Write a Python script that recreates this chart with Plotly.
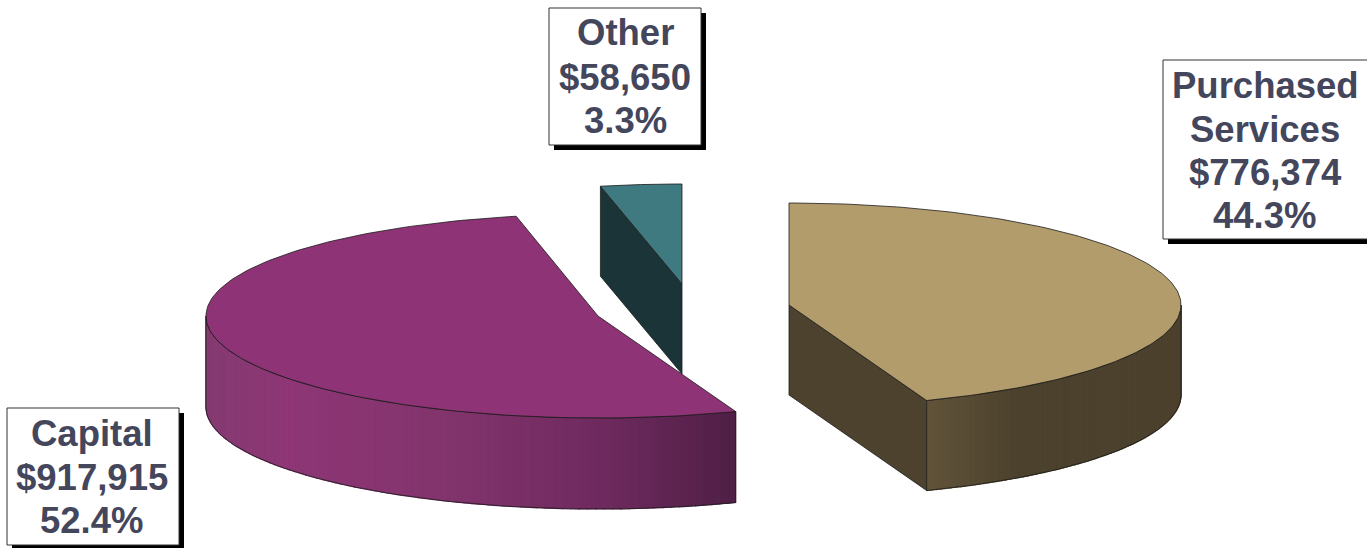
import math
import plotly.graph_objects as go

# ---- data ----
categories = ["Purchased Services", "Capital", "Other"]
amounts = [776374, 917915, 58650]
shares = [44.3, 52.4, 3.3]
label_lines = [["Purchased", "Services"], ["Capital"], ["Other"]]

# ---- styling / layout constants ----
W, H = 1367, 548
RX = [392, 392, 391]
RY = [102, 102, 100]
DEPTH = [90, 91, 90]
APEX = [(789, 305), (598, 316), (682, 284)]
TOP = ["#B39C6B", "#8F3377", "#3F7A80"]
CUT = ["#4D422E", None, "#1A3437"]
# wall shading stops: (fraction across the wall from left to right, r, g, b)
SHADE = [
    [(0.0, 0x60, 0x53, 0x3A), (0.12, 0x5A, 0x4D, 0x35), (0.36, 0x4C, 0x41, 0x2D), (1.0, 0x4C, 0x41, 0x2D)],
    [(0.0, 0x84, 0x3A, 0x70), (0.15, 0x8E, 0x36, 0x76), (0.45, 0x82, 0x34, 0x6C), (0.75, 0x6E, 0x2A, 0x5E), (1.0, 0x4E, 0x1F, 0x45)],
    None,
]
EDGE = "#1c1c1c"
TEXT = "#44465C"
BOX = [(1163, 60, 1372, 239), (7, 408, 179, 545), (549, 8, 701, 145)]
LINE_Y = [[85, 129, 172, 215], [433, 477, 520], [32, 77, 120]]
TEXT_X = [1265, 92, 625]

total = sum(amounts)
starts, a = [], 0.0
for v in amounts:
    starts.append(a)
    a += v / total * 2 * math.pi
ends = starts[1:] + [2 * math.pi]


def rim(i, th, dy=0):
    cx, cy = APEX[i]
    return cx + RX[i] * math.sin(th), cy - RY[i] * math.cos(th) + dy


def arc(i, t0, t1, n, dy=0):
    return [rim(i, t0 + (t1 - t0) * k / n, dy) for k in range(n + 1)]


def shade(i, f):
    stops = SHADE[i]
    for (f0, *c0), (f1, *c1) in zip(stops, stops[1:]):
        if f <= f1:
            u = (f - f0) / (f1 - f0)
            return "rgb(%d,%d,%d)" % tuple(round(p + (q - p) * u) for p, q in zip(c0, c1))
    return "rgb(%d,%d,%d)" % tuple(stops[-1][1:])


fig = go.Figure()


def poly(pts, fill, line=EDGE, width=0.8):
    fig.add_trace(go.Scatter(
        x=[p[0] for p in pts] + [pts[0][0]],
        y=[p[1] for p in pts] + [pts[0][1]],
        mode="lines", fill="toself", fillcolor=fill,
        line=dict(color=line, width=width), hoverinfo="skip", showlegend=False))


def wall(i, t0, t1, strips=90):
    x0, x1 = sorted((rim(i, t0)[0], rim(i, t1)[0]))
    for k in range(strips):
        a0 = t0 + (t1 - t0) * k / strips
        a1 = t0 + (t1 - t0) * (k + 1) / strips
        f = (rim(i, (a0 + a1) / 2)[0] - x0) / (x1 - x0)
        col = shade(i, f)
        pts = [rim(i, a0), rim(i, a1), rim(i, a1, DEPTH[i]), rim(i, a0, DEPTH[i])]
        poly(pts, col, line=col, width=1.2)
    outline = arc(i, t0, t1, 60) + arc(i, t1, t0, 60, DEPTH[i])
    fig.add_trace(go.Scatter(
        x=[p[0] for p in outline] + [outline[0][0]],
        y=[p[1] for p in outline] + [outline[0][1]],
        mode="lines", line=dict(color=EDGE, width=0.8),
        hoverinfo="skip", showlegend=False))


def cut_face(i, th):
    cx, cy = APEX[i]
    e = rim(i, th)
    poly([(cx, cy), e, (e[0], e[1] + DEPTH[i]), (cx, cy + DEPTH[i])], CUT[i])


def top_face(i):
    poly([APEX[i]] + arc(i, starts[i], ends[i], 160), TOP[i])


# Other (back)
cut_face(2, starts[2])
top_face(2)
# Purchased Services (right)
cut_face(0, ends[0])
wall(0, math.pi / 2, ends[0])
top_face(0)
# Capital (front-left)
wall(1, starts[1], 1.5 * math.pi)
top_face(1)

shapes, annotations = [], []
for i, (x0, y0, x1, y1) in enumerate(BOX):
    shapes.append(dict(type="rect", x0=x0 + 5, y0=y0 + 5, x1=x1 + 5, y1=y1 + 5,
                       fillcolor="#000000", line=dict(color="#000000", width=0), layer="above"))
    shapes.append(dict(type="rect", x0=x0, y0=y0, x1=x1, y1=y1, fillcolor="#ffffff",
                       line=dict(color="#333333", width=1), layer="above"))
    lines = label_lines[i] + [f"${amounts[i]:,}", f"{shares[i]}%"]
    for txt, y in zip(lines, LINE_Y[i]):
        annotations.append(dict(x=TEXT_X[i], y=y, xref="x", yref="y", text=f"<b>{txt}</b>",
                                showarrow=False, xanchor="center", yanchor="middle",
                                font=dict(family="Liberation Sans", size=36.5, color=TEXT)))

fig.update_layout(
    width=W, height=H, margin=dict(l=0, r=0, t=0, b=0),
    paper_bgcolor="white", plot_bgcolor="white", showlegend=False,
    xaxis=dict(range=[0, W], visible=False, fixedrange=True),
    yaxis=dict(range=[H, 0], visible=False, fixedrange=True),
    shapes=shapes, annotations=annotations)

fig.write_html("out.html", config={"displayModeBar": False},
               post_script="document.body.style.margin='0';document.body.style.overflow='hidden';")
